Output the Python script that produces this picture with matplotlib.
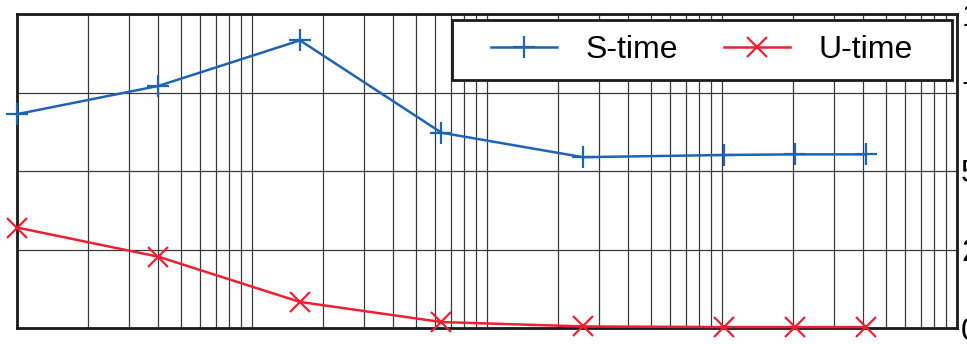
import numpy as np
import matplotlib
matplotlib.use('Agg')
import matplotlib.pyplot as plt
from matplotlib.patches import Rectangle

# Данные: размер задачи (лог. шкала) и доли времени
sizes = [1, 4, 16, 64, 256, 1024, 2048, 4096]
s_time = [68.1, 77.1, 91.6, 62.2, 54.4, 55.1, 55.3, 55.3]
u_time = [32.0, 22.7, 8.3, 1.9, 0.5, 0.3, 0.3, 0.3]
y_ticks = [0, 25, 50, 75, 100]
y_labels = ['0', '25', '50', '75', '100']

plt.rcParams['font.family'] = ['Liberation Sans', 'DejaVu Sans']

fig = plt.figure(figsize=(9.67, 3.44), dpi=100)
ax = fig.add_axes([17 / 967, 16 / 344, 940 / 967, 314 / 344])

ax.plot(sizes, s_time, color='#1E64B4', lw=1.8, marker='+', ms=16, mew=1.6,
        label='S-time', clip_on=False, zorder=3)
ax.plot(sizes, u_time, color='#EC1F33', lw=1.8, marker='x', ms=14, mew=1.6,
        label='U-time', clip_on=False, zorder=3)

ax.set_xscale('log')
ax.set_xlim(1, 1e4)
ax.set_ylim(0, 100)
ax.set_yticks(y_ticks)
ax.set_yticklabels(y_labels)

ax.grid(True, which='both', axis='x', color='#3a3a3a', lw=0.9)
ax.grid(True, which='major', axis='y', color='#3a3a3a', lw=0.9)

ax.tick_params(axis='x', which='both', length=0, labelbottom=False)
ax.tick_params(axis='y', which='both', length=0, labelleft=False,
               labelright=True, pad=3, labelsize=23)

for s in ax.spines.values():
    s.set_linewidth(2.0)
    s.set_color('#1a1a1a')

# Рамка легенды отдельно, чтобы задать отступы
ax.add_patch(Rectangle((0.4628, 0.790), 0.532, 0.191, transform=ax.transAxes,
                       facecolor='white', edgecolor='#1a1a1a', lw=2.0, zorder=4))
ax.legend(loc='center', bbox_to_anchor=(0.7287, 0.885), ncol=2, frameon=False,
          fontsize=23, handlelength=2.07, handletextpad=0.88, columnspacing=1.44,
          borderpad=0, borderaxespad=0).set_zorder(5)

fig.savefig('out.png', dpi=100)
